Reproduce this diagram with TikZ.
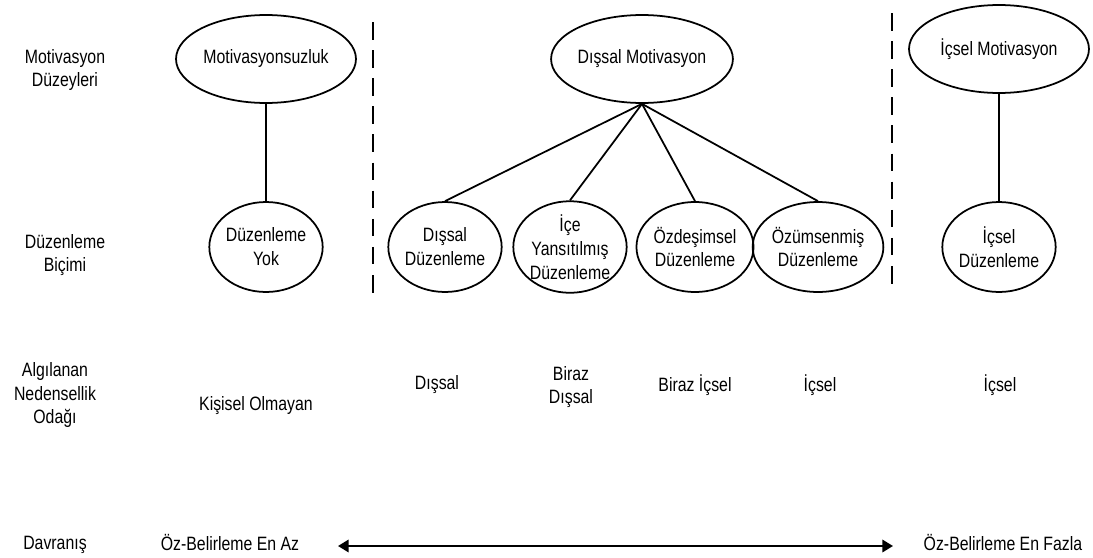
\documentclass[tikz,border=0pt]{standalone}
\usepackage{fontspec}
\setmainfont{Liberation Sans}[FakeStretch=0.82]
\usetikzlibrary{shapes.geometric,arrows.meta}
\begin{document}
\begin{tikzpicture}[x=0.02cm,y=-0.02cm,
		font=\fontsize{11}{13.6}\selectfont,
		lbl/.style={align=center,inner sep=0},
		level/.style={draw,ellipse,line width=1pt,minimum width=3.6cm,minimum height=1.76cm,inner sep=0,align=center},
		form/.style={draw,ellipse,line width=1pt,minimum width=2.12cm,minimum height=1.8cm,inner sep=0,align=center}]
			\useasboundingbox (0,0) rectangle (1093,558);
			% satir basliklari
			\node[lbl] (h1) at (65,70) {Motivasyon\\Düzeyleri};
			\node[lbl] (h2) at (65,255) {Düzenleme\\Biçimi};
			\node[lbl] (h3) at (55,395) {Algılanan\\Nedensellik\\Odağı};
			\node[lbl] (h4) at (55,545) {Davranış};
			% motivasyon duzeyleri
			\node[level] (AM) at (266,59) {Motivasyonsuzluk};
			\node[level] (DM) at (642,59) {Dışsal Motivasyon};
			\node[level] (IM) at (999,49) {İçsel Motivasyon};
			% duzenleme bicimleri
			\node[form] (R0) at (266,247) {Düzenleme\\Yok};
			\node[form] (R1) at (445,247) {Dışsal\\Düzenleme};
			\node[form] (R2) at (570,247) {İçe\\Yansıtılmış\\Düzenleme};
			\node[form] (R3) at (695,247) {Özdeşimsel\\Düzenleme};
			\node[form] (R4) at (818,247) {Özümsenmiş\\Düzenleme};
			\node[form] (R5) at (999,247) {İçsel\\Düzenleme};
			\draw[line width=1pt] (AM.south) -- (R0.north);
			\draw[line width=1pt] (IM.south) -- (R5.north);
			\foreach \r in {R1,R2,R3,R4}
				\draw[line width=1pt] (DM.south) -- (\r.north);
			% ayirici cizgiler
			\coordinate (S1a) at (373,22);
			\coordinate (S1b) at (373,293);
			\coordinate (S2a) at (892,13);
			\coordinate (S2b) at (892,290);
			\draw[line width=1pt,dash pattern=on 10pt off 6pt] (S1a) -- (S1b);
			\draw[line width=1pt,dash pattern=on 10pt off 6pt] (S2a) -- (S2b);
			% nedensellik odagi
			\node[lbl] (L0) at (256,406) {Kişisel Olmayan};
			\node[lbl] (L1) at (437,385) {Dışsal};
			\node[lbl] (L2) at (571,387) {Biraz\\Dışsal};
			\node[lbl] (L3) at (695,385) {Biraz İçsel};
			\node[lbl] (L4) at (820,385) {İçsel};
			\node[lbl] (L5) at (1000,385) {İçsel};
			% davranis
			\node[lbl] (B0) at (230,543) {Öz-Belirleme En Az};
			\node[lbl] (B1) at (1003,543) {Öz-Belirleme En Fazla};
			\coordinate (P) at (338,546);
			\coordinate (Q) at (893,546);
			\draw[line width=1.2pt,{Triangle[length=6pt,width=7pt]}-{Triangle[length=6pt,width=7pt]}] (P) -- (Q);
		\end{tikzpicture}
\end{document}
